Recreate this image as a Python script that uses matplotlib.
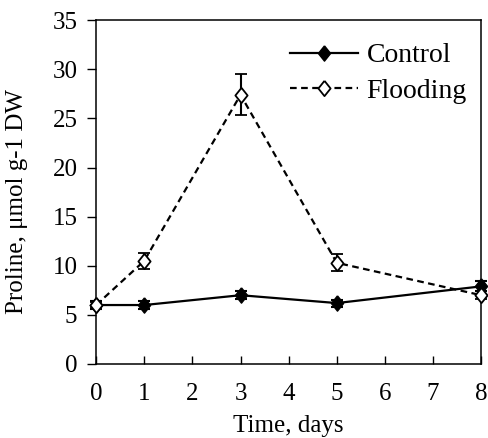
import matplotlib
matplotlib.use("Agg")
import matplotlib.pyplot as plt
from matplotlib.lines import Line2D

# Proline content over time
days = [0, 1, 3, 5, 8]
control = [6.0, 6.0, 7.0, 6.2, 7.9]
control_err = [0.4, 0.4, 0.4, 0.35, 0.5]
flooding = [6.0, 10.5, 27.4, 10.3, 7.0]
flooding_err = [0.3, 0.8, 2.1, 0.85, 0.4]

plt.rcParams['font.family'] = ['Liberation Serif', 'DejaVu Serif']

fig = plt.figure(figsize=(4.88, 4.38), dpi=100)
ax = fig.add_axes([0.197, 0.169, 0.789, 0.785])

dash = (0, (3, 2))
diamond = [(0, 1), (0.8, 0), (0, -1), (-0.8, 0), (0, 1)]
msize = 11

ctrl = ax.errorbar(days, control, yerr=control_err, color='black', lw=1.6,
                   marker=diamond, markersize=msize, markerfacecolor='black',
                   markeredgecolor='black', capsize=4, elinewidth=1.5,
                   capthick=1.5, zorder=3)
flood = ax.errorbar(days, flooding, yerr=flooding_err, color='black', lw=1.6,
                    linestyle=dash, marker=diamond, markersize=msize,
                    markerfacecolor='white', markeredgecolor='black',
                    markeredgewidth=1.3, capsize=4, elinewidth=1.5,
                    capthick=1.5, zorder=4)
for container in (ctrl, flood):
    for artist in container.get_children():
        artist.set_clip_on(False)

ax.set_xlim(0, 8)
ax.set_ylim(0, 35)
ax.set_xticks(range(0, 9))
ax.set_yticks(range(0, 36, 5))
ax.tick_params(axis='x', direction='in', length=6, width=1, labelsize=18, pad=14)
ax.tick_params(axis='y', direction='out', length=6.5, width=1, labelsize=18, pad=7)
for s in ax.spines.values():
    s.set_linewidth(1.1)

ax.set_xlabel('Time, days', fontsize=18)
ax.set_ylabel('Proline, μmol g-1 DW', fontsize=18)
ax.xaxis.set_label_coords(0.5, -0.148)
ax.yaxis.set_label_coords(-0.178, 0.474)

handles = [
    Line2D([], [], color='black', lw=1.6, marker=diamond, markersize=msize,
           markerfacecolor='black', markeredgecolor='black'),
    Line2D([], [], color='black', lw=1.6, linestyle=dash, marker=diamond,
           markersize=msize, markerfacecolor='white', markeredgecolor='black',
           markeredgewidth=1.3),
]
ax.legend(handles, ['Control', 'Flooding'], loc='upper right', frameon=False,
          fontsize=20, handlelength=2.45, handletextpad=0.3, labelspacing=0.35,
          borderaxespad=0.3, bbox_to_anchor=(1.013, 0.99))

fig.savefig('out.png', dpi=100)
